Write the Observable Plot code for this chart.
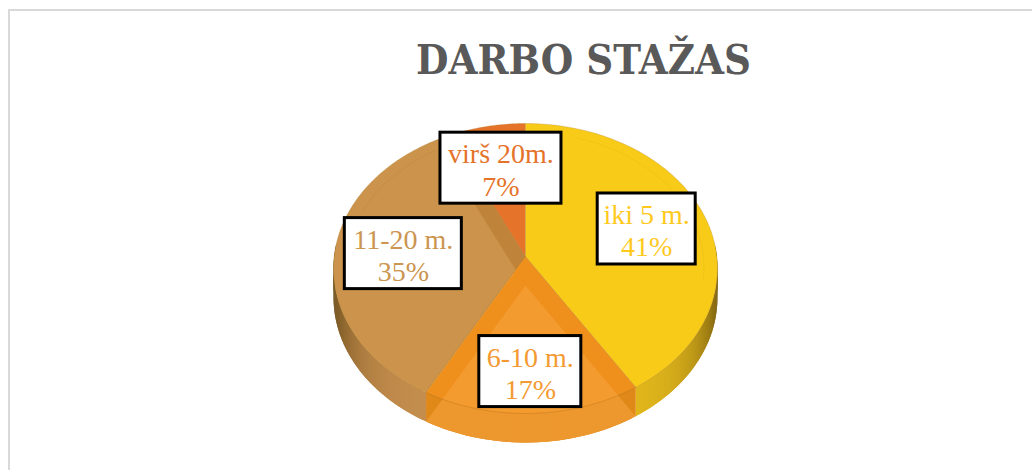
<!DOCTYPE html>
<html>
<head>
<meta charset="utf-8">
<script src="https://cdn.jsdelivr.net/npm/d3@7"></script>
<script src="https://cdn.jsdelivr.net/npm/@observablehq/plot@0.6"></script>
<style>
  html, body { margin: 0; background: #fff; }
  #wrap { position: relative; width: 1032px; height: 470px; overflow: hidden; }
  #edge { position: absolute; left: 8px; top: 9px; right: -4px; bottom: -4px; border: 2px solid #d9d9d9; }
  #chart { position: absolute; left: 0; top: 0; }
  g[aria-label="label box"] rect { filter: drop-shadow(2px 3px 4px rgba(60,40,0,.4)); }
</style>
</head>
<body>
<div id="wrap"><div id="edge"></div><div id="chart"></div></div>
<script>
const title = "DARBO STAŽAS";
const categories = ["iki 5 m.", "6-10 m.", "11-20 m.", "virš 20m."];
const percents = [41, 17, 35, 7];
const faceColors = ["#F7CB18", "#EF8F1C", "#CB934B", "#E5732A"];
const wallColors = ["#E3B81C", "#E08818", "#C58E4E", "#C96422"];
const textColors = ["#FFC91E", "#F49A32", "#CC9550", "#E5732A"];

// Layout of the tilted disc (in pixels around the pie's centre)
const W = 1032, H = 470, cx = 525, cy = 256;
const R = 191.3, A = 144, k = 0.0827, depth = 29;
const labelRadius = [0.67, 0.75, 0.64, 0.67];
const labelNudgeX = [0, 0, 0, 2], labelNudgeY = [-1, 0, 0, 1];
const boxWidth = [98, 102, 117, 121], boxHeight = 71;

const project = (deg, r = 1, drop = 0) => {
  const t = deg * Math.PI / 180, w = 1 + k * r * Math.cos(t);
  return {x: R * r * Math.sin(t) / w, y: -A * r * Math.cos(t) / w + drop};
};

let acc = 0;
const slices = categories.map((name, i) => {
  const a0 = acc * 3.6; acc += percents[i]; const a1 = acc * 3.6;
  return {i, name, pct: percents[i], a0, a1, mid: (a0 + a1) / 2};
});
const arc = (s, r = 1, drop = 0) => d3.range(s.a0, s.a1, 1).concat(s.a1).map(d => project(d, r, drop));
const facePts = (s, drop = 0) => [project(0, 0, drop), ...arc(s, 1, drop)]
  .map(p => ({...p, id: s.name + drop, c: faceColors[s.i]}));

// Outer wall: thin shaded strips along the near half of the rim
const wallRows = [];
const mix = d3.interpolateRgb;
slices.forEach(s => {
  for (let d = Math.max(s.a0, 85); d < Math.min(s.a1, 275); d += 1) {
    const e = Math.min(d + 2, s.a1, 275);
    const m = Math.abs(Math.sin((d + 0.5) * Math.PI / 180));
    const c = mix(wallColors[s.i], s.i === 1 ? wallColors[s.i] : "#4a3608")(Math.pow(m, 6) * 0.72);
    const id = s.name + d;
    [project(d), project(e), project(e, 1, depth), project(d, 1, depth)]
      .forEach(p => wallRows.push({...p, id, c}));
  }
});

const [yellow, orange, brown, red] = slices;
const band = [project(brown.a1, 0), project(brown.a1), project(brown.a1, 1, depth), project(brown.a1, 0, depth)];
const labels = slices.map(s => {
  const p = project(s.mid, labelRadius[s.i]);
  return {
    x: p.x + labelNudgeX[s.i], y: p.y + labelNudgeY[s.i],
    text: `${s.name}\n${s.pct}%`, c: textColors[s.i],
    w: boxWidth[s.i]
  };
});

const faceMark = (s) => Plot.line(facePts(s), {x: "x", y: "y", fill: "c", z: "id", stroke: "#a87a20", strokeOpacity: 0.35, strokeWidth: 0.8, curve: "linear-closed"});

const plot = Plot.plot({
  width: W, height: H, margin: 0,
  x: {domain: [-cx, W - cx], range: [0, W], axis: null},
  y: {domain: [-cy, H - cy], range: [0, H], axis: null},
  color: {type: "identity"},
  style: {background: "transparent"},
  marks: [
    Plot.line(wallRows, {x: "x", y: "y", z: "id", fill: "c", stroke: "none", curve: "linear-closed"}),
    faceMark(brown),
    faceMark(red),
    Plot.line(band, {x: "x", y: "y", fill: "#B87A2E", fillOpacity: 0.6, stroke: "none", curve: "linear-closed"}),
    faceMark(yellow),
    faceMark(orange),
    // translucent orange slice: its lower plate shows through
    Plot.line(facePts(orange, depth), {x: "x", y: "y", fill: "#F9A844", fillOpacity: 0.5, stroke: "none", curve: "linear-closed"}),
    Plot.line(arc(orange), {x: "x", y: "y", stroke: "#C9740F", strokeOpacity: 0.6, strokeWidth: 0.8}),
    // faint bevel on the plate
    Plot.line(arc({a0: 18, a1: 100}, 0.93), {x: "x", y: "y", stroke: "#C99A10", strokeOpacity: 0.18, strokeWidth: 0.8}),
    Plot.line(arc({a0: 290, a1: 328}, 0.93), {x: "x", y: "y", stroke: "#A8742E", strokeOpacity: 0.25, strokeWidth: 0.8}),
    // label boxes
    Plot.rect(labels, {
      x1: d => d.x - d.w / 2, x2: d => d.x + d.w / 2,
      y1: d => d.y - boxHeight / 2, y2: d => d.y + boxHeight / 2,
      fill: "white", stroke: "black", strokeWidth: 3, ariaLabel: "label box"
    }),
    Plot.text(labels, {
      x: "x", y: d => d.y + 1, text: "text", fill: "c",
      fontFamily: "Liberation Serif", fontSize: 28, lineHeight: 1.15, lineAnchor: "middle", ariaLabel: "label text"
    }),
    Plot.text([title], {
      x: [583 - cx], y: [60 - cy], text: d => d, fill: "#595959",
      fontFamily: "DejaVu Serif Condensed, DejaVu Serif", fontWeight: "bold", fontSize: 41.5, lineAnchor: "middle", ariaLabel: "title"
    })
  ]
});
document.getElementById("chart").appendChild(plot);
</script>
</body>
</html>
